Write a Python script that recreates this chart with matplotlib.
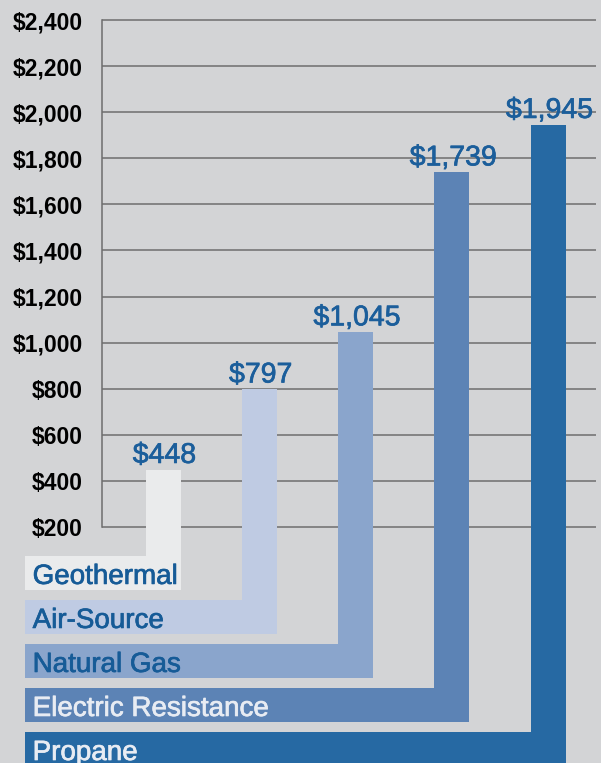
import matplotlib.pyplot as plt
import matplotlib.patheffects as pe
import numpy as np

# heating cost per year
systems = ['Geothermal', 'Air-Source', 'Natural Gas', 'Electric Resistance', 'Propane']
costs = [448, 797, 1045, 1739, 1945]
value_labels = ['$448', '$797', '$1,045', '$1,739', '$1,945']
yticks = [200, 400, 600, 800, 1000, 1200, 1400, 1600, 1800, 2000, 2200, 2400]
ytick_labels = ['$200', '$400', '$600', '$800', '$1,000', '$1,200', '$1,400',
                '$1,600', '$1,800', '$2,000', '$2,200', '$2,400']

bar_colors = ['#eaebec', '#bfcbe3', '#8aa5cc', '#5c83b5', '#2669a3']
name_colors = ['#165b97', '#165b97', '#165b97', '#e8ecf3', '#e8ecf3']
bg = '#d3d4d6'

plt.rcParams['font.family'] = ['Liberation Sans', 'DejaVu Sans']

fig = plt.figure(figsize=(6.01, 7.63), dpi=100, facecolor=bg)
ax = fig.add_axes([102 / 601, 0, 494 / 601, 1])
ax.set_facecolor(bg)

x = np.arange(len(systems))
bar_w = 0.364
band_h = 147            # height of the name strip, in $ units
band_top = 74 - 191 * x  # strips stacked under the zero line
band_left = -1.449

for i in x:
    bottom = band_top[i] - band_h
    # vertical bar goes down into its own strip
    ax.bar(x[i] - 0.015, costs[i] - bottom, bottom=bottom, width=bar_w,
           color=bar_colors[i], zorder=3, clip_on=False)
    # horizontal strip holding the name
    ax.barh(band_top[i] - band_h / 2, x[i] - 0.015 + bar_w / 2 - band_left, left=band_left,
            height=band_h, color=bar_colors[i], zorder=3, clip_on=False)
    ax.text(-1.37, band_top[i] - 121, systems[i], fontsize=20, color=name_colors[i],
            ha='left', va='baseline', zorder=4, clip_on=False,
            path_effects=[pe.withStroke(linewidth=0.5, foreground=name_colors[i])])
    ax.text(x[i], costs[i] + 30, value_labels[i], fontsize=20.5, color='#1b5e9b',
            ha='center', va='baseline', zorder=4,
            path_effects=[pe.withStroke(linewidth=0.5, foreground='#1b5e9b')])

ax.set_xlim(-0.6494, 4.4831)
ax.set_ylim(-824.1, 2486.8)

ax.set_yticks(yticks)
ax.set_yticklabels(ytick_labels, fontsize=16.5, fontweight='bold', color='black')
ax.tick_params(axis='y', length=0, pad=14)
ax.set_xticks([])
ax.grid(axis='y', color='#6e6e6e', linewidth=1.1)
ax.set_axisbelow(True)

for s in ['top', 'right', 'bottom']:
    ax.spines[s].set_visible(False)
ax.spines['left'].set_bounds(200, 2400)
ax.spines['left'].set_color('#6e6e6e')
ax.spines['left'].set_linewidth(1.1)

plt.savefig('out.png', dpi=100, facecolor=bg)
